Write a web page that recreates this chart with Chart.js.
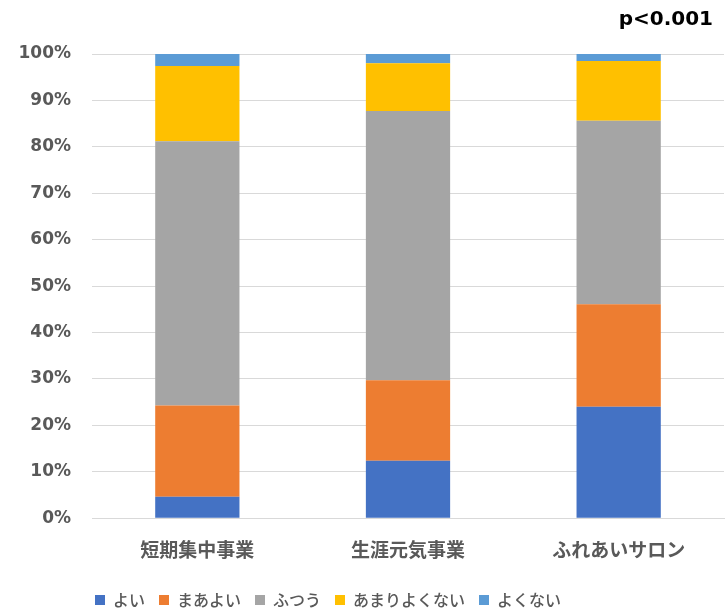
<!DOCTYPE html>
<html lang="ja">
<head>
<meta charset="utf-8">
<title>主観的健康感</title>
<script src="https://cdn.jsdelivr.net/npm/chart.js@4/dist/chart.umd.min.js"></script>
<style>
  html, body { margin: 0; padding: 0; background: #ffffff; }
  #wrap { width: 725px; height: 612px; }
</style>
</head>
<body>
<div id="wrap"><canvas id="chart" width="725" height="612"></canvas></div>
<script>
// Programs compared
const categories = ['短期集中事業', '生涯元気事業', 'ふれあいサロン'];

// Share of answers per program (%)
const good       = [4.6, 12.4, 24.0];   // よい
const fairlyGood = [19.7, 17.3, 22.1];  // まあよい
const average    = [56.9, 58.0, 39.5];  // ふつう
const notVery    = [16.2, 10.3, 12.9];  // あまりよくない
const poor       = [2.6, 2.0, 1.5];     // よくない

const seriesNames = ['よい', 'まあよい', 'ふつう', 'あまりよくない', 'よくない'];
const yTickValues = [0, 10, 20, 30, 40, 50, 60, 70, 80, 90, 100];
const noteText = 'p<0.001';

const palette = ['#4472C4', '#ED7D31', '#A5A5A5', '#FFC000', '#5B9BD5'];
const labelGray = '#595959';
const gridGray = '#d9d9d9';

const seriesValues = [good, fairlyGood, average, notVery, poor];
const datasets = seriesValues.map((vals, i) => ({
  label: seriesNames[i],
  data: vals,
  backgroundColor: palette[i],
  borderWidth: 0,
  categoryPercentage: 1.0,
  barPercentage: 0.4
}));

// Moves the note (top right) and the legend row to their spots
const placeBlocks = {
  id: 'placeBlocks',
  afterLayout(chart) {
    const lg = chart.legend;
    if (lg) {
      const dx = 81 - lg.left;
      lg.left += dx; lg.right += dx;
      const dy = 578 - lg.top;
      lg.top += dy; lg.bottom += dy;
    }
    const t = chart.titleBlock;
    if (t) { t.right = 713; }
  }
};

new Chart(document.getElementById('chart'), {
  type: 'bar',
  data: { labels: categories, datasets },
  plugins: [placeBlocks],
  options: {
    responsive: false,
    animation: false,
    layout: { padding: { left: 0, right: 1, top: 0, bottom: 0 } },
    plugins: {
      title: {
        display: true,
        text: noteText,
        align: 'end',
        color: '#000000',
        font: { family: '"DejaVu Sans", Verdana, sans-serif', size: 20, weight: 'bold' },
        padding: { top: 8, bottom: 22 }
      },
      legend: {
        display: true,
        position: 'bottom',
        align: 'start',
        labels: {
          boxWidth: 10,
          boxHeight: 10,
          padding: 14,
          color: labelGray,
          font: { family: '"Noto Sans CJK JP", sans-serif', size: 16, weight: 500 }
        }
      },
      tooltip: { enabled: false }
    },
    scales: {
      x: {
        stacked: true,
        grid: { display: false, drawTicks: false },
        border: { display: true, color: gridGray, width: 1 },
        afterFit(scale) { scale.height -= 9; },
        ticks: {
          color: labelGray,
          padding: 20,
          font: { family: '"Noto Sans CJK JP", sans-serif', size: 19, weight: 'bold' }
        }
      },
      y: {
        stacked: true,
        min: 0,
        max: 100,
        afterBuildTicks(scale) {
          scale.ticks = yTickValues.map(v => ({ value: v }));
        },
        afterFit(scale) { scale.width = 92; },
        grid: { color: gridGray, lineWidth: 1, drawTicks: false },
        border: { display: false },
        ticks: {
          color: labelGray,
          padding: 21,
          font: { family: '"DejaVu Sans", Verdana, sans-serif', size: 17, weight: 'bold' },
          callback: v => v + '%'
        }
      }
    }
  }
});
</script>
</body>
</html>
